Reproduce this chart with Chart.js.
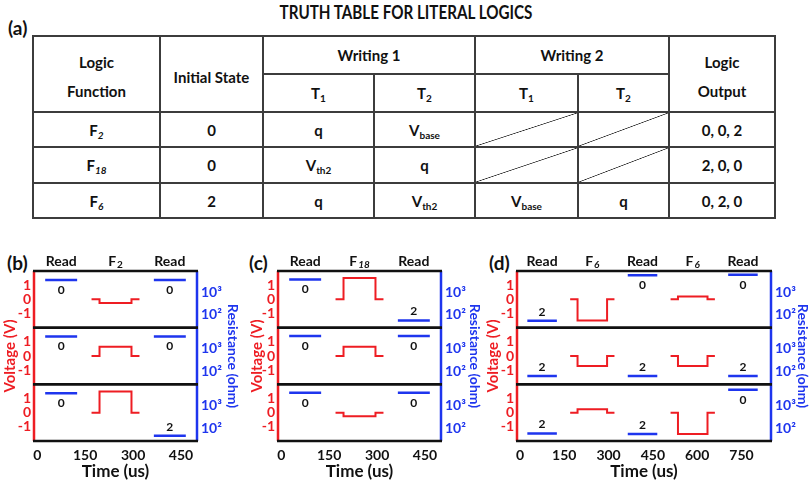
<!DOCTYPE html>
<html>
<head>
<meta charset="utf-8">
<script src="https://cdn.jsdelivr.net/npm/chart.js@4.4.1/dist/chart.umd.min.js"></script>
<style>
  html, body { margin: 0; padding: 0; background: #fff; }
  body { position: relative; width: 812px; height: 480px; overflow: hidden;
         font-family: Lato, "Open Sans", sans-serif; font-weight: bold; color: #111; }
  .lbl { position: absolute; white-space: nowrap; }
  #title { left: 0; width: 812px; top: 0px; text-align: center; font-size: 19px; transform: scaleX(0.8); }
  #tagA { left: 8px; top: 16px; font-size: 19px; }
  table { position: absolute; left: 32px; top: 35px; width: 742px; border-collapse: collapse; table-layout: fixed; }
  td { border: 2px solid #3c3c3c; text-align: center; vertical-align: middle; padding: 0; font-size: 15px; }
  td.hd2 { line-height: 29px; padding-top: 6px; }
  sub { font-size: 10px; vertical-align: -3px; line-height: 0; }
  .diag { background: linear-gradient(to bottom right, transparent calc(50% - 0.7px), #222 50%, transparent calc(50% + 0.7px)); }
  canvas { position: absolute; }
</style>
</head>
<body>
<div class="lbl" id="title">TRUTH TABLE FOR LITERAL LOGICS</div>
<div class="lbl" id="tagA">(a)</div>
<table id="truth"></table>
<div class="lbl" style="left:7px;top:251px;font-size:19px;">(b)</div>
<div class="lbl" style="left:249px;top:251px;font-size:19px;">(c)</div>
<div class="lbl" style="left:489px;top:251px;font-size:19px;">(d)</div>

<script>
// truth table
const fnSub = ['2', '18', '6'];
const initState = ['0', '0', '2'];
const w1t1 = ['q', 'V<sub>th2</sub>', 'q'];
const w1t2 = ['V<sub>base</sub>', 'q', 'V<sub>th2</sub>'];
const w2t1 = ['', '', 'V<sub>base</sub>'];
const w2t2 = ['', '', 'q'];
const logicOut = ['0, 0, 2', '2, 0, 0', '0, 2, 0'];

// waveform panels
const timeTicksBC = [0, 150, 300, 450];
const timeTicksD = [0, 150, 300, 450, 600, 750];
const voltTicks = [-1, 0, 1];
const resTicks = [100, 1000];
const resTickText = ['10\u00b2', '10\u00b3'];

const readStart = [25, 365, 705];
const readEnd = [125, 465, 805];

const pulseTimesBC = [170, 195, 195, 295, 295, 320];
const pulseTimesD = [170, 195, 195, 295, 295, 320, 415, 510, 535, 535, 635, 635, 660];

const voltB = [
  [0, 0, -0.25, -0.25, 0, 0],
  [0, 0, 0.65, 0.65, 0, 0],
  [0, 0, 1.5, 1.5, 0, 0]
];
const voltC = [
  [0, 0, 1.5, 1.5, 0, 0],
  [0, 0, 0.65, 0.65, 0, 0],
  [0, 0, -0.25, -0.25, 0, 0]
];
const voltD = [
  [0, 0, -1.5, -1.5, 0, 0, null, 0, 0, 0.2, 0.2, 0, 0],
  [0, 0, -0.7, -0.7, 0, 0, null, 0, 0, -0.7, -0.7, 0, 0],
  [0, 0, 0.25, 0.25, 0, 0, null, 0, 0, -1.5, -1.5, 0, 0]
];

const stateB = [[0, 0], [0, 0], [0, 2]];
const resB = [[3500, 3500], [3500, 3500], [3500, 46]];
const stateC = [[0, 2], [0, 0], [0, 0]];
const resC = [[3700, 56], [3700, 3700], [3700, 3700]];
const stateD = [[2, 0, 0], [2, 2, 2], [2, 2, 0]];
const resD = [[54, 5600, 5900], [63, 63, 63], [58, 55, 5000]];

const phaseTimeBC = [75, 245, 415];
const phaseTimeD = [75, 245, 415, 585, 755];
const phaseMainB = ['Read', 'F', 'Read'];
const phaseSubB = ['', '2', ''];
const phaseMainC = ['Read', 'F', 'Read'];
const phaseSubC = ['', '18', ''];
const phaseMainD = ['Read', 'F', 'Read', 'F', 'Read'];
const phaseSubD = ['', '6', '', '6', ''];

const redC = '#ee1d23';
const blueC = '#1e35ee';
const FONT = 'Lato, "Open Sans", sans-serif';

// build the table
let html = '<colgroup><col style="width:127px"><col style="width:103px"><col style="width:111px">' +
  '<col style="width:101px"><col style="width:103px"><col style="width:91px"><col style="width:106px"></colgroup>';
html += '<tr style="height:38px"><td rowspan="2" class="hd2">Logic<br>Function</td>' +
  '<td rowspan="2" style="padding-top:6px">Initial State</td><td colspan="2">Writing 1</td>' +
  '<td colspan="2">Writing 2</td><td rowspan="2" class="hd2">Logic<br>Output</td></tr>';
html += '<tr style="height:38px"><td>T<sub>1</sub></td><td>T<sub>2</sub></td><td>T<sub>1</sub></td><td>T<sub>2</sub></td></tr>';
const rowH = [35, 36, 35];
for (let i = 0; i < 3; i++) {
  html += '<tr style="height:' + rowH[i] + 'px">' +
    '<td>F<sub><i>' + fnSub[i] + '</i></sub></td>' +
    '<td>' + initState[i] + '</td>' +
    '<td>' + w1t1[i] + '</td><td>' + w1t2[i] + '</td>' +
    '<td' + (w2t1[i] ? '' : ' class="diag"') + '>' + w2t1[i] + '</td>' +
    '<td' + (w2t2[i] ? '' : ' class="diag"') + '>' + w2t2[i] + '</td>' +
    '<td>' + logicOut[i] + '</td></tr>';
}
document.getElementById('truth').innerHTML = html;

const panels = {
  chartB: { left: 0, width: 246, xMax: 500, xTicks: timeTicksBC, pulseT: pulseTimesBC, volt: voltB,
            state: stateB, res: resB, phaseT: phaseTimeBC, phaseMain: phaseMainB, phaseSub: phaseSubB,
            subItalic: false, leftW: 34, rightW: 49, vOff: 24, rOff: 36 },
  chartC: { left: 243, width: 243, xMax: 500, xTicks: timeTicksBC, pulseT: pulseTimesBC, volt: voltC,
            state: stateC, res: resC, phaseT: phaseTimeBC, phaseMain: phaseMainC, phaseSub: phaseSubC,
            subItalic: true, leftW: 35, rightW: 45, vOff: 21, rOff: 34 },
  chartD: { left: 486, width: 326, xMax: 850, xTicks: timeTicksD, pulseT: pulseTimesD, volt: voltD,
            state: stateD, res: resD, phaseT: phaseTimeD, phaseMain: phaseMainD, phaseSub: phaseSubD,
            subItalic: true, leftW: 31, rightW: 41, vOff: 24, rOff: 32 }
};

// frame, row separators, labels
const panelDecor = {
  id: 'panelDecor',
  afterDraw(chart) {
    const p = panels[chart.canvas.id];
    const { ctx, chartArea: a, scales } = chart;
    ctx.save();
    ctx.strokeStyle = redC; ctx.lineWidth = 2.5;
    ctx.beginPath(); ctx.moveTo(a.left, a.top); ctx.lineTo(a.left, a.bottom); ctx.stroke();
    ctx.strokeStyle = blueC;
    ctx.beginPath(); ctx.moveTo(a.right, a.top); ctx.lineTo(a.right, a.bottom); ctx.stroke();
    ctx.strokeStyle = '#111'; ctx.lineWidth = 2.5;
    for (let i = 0; i < 3; i++) {
      const s = scales['r' + i];
      [s.top, s.bottom].forEach(y => {
        ctx.beginPath(); ctx.moveTo(a.left - 1, y); ctx.lineTo(a.right + 1, y); ctx.stroke();
      });
    }
    // read state labels
    ctx.fillStyle = '#111';
    ctx.font = 'bold 12px ' + FONT;
    ctx.textAlign = 'center'; ctx.textBaseline = 'middle';
    for (let i = 0; i < 3; i++) {
      p.state[i].forEach((st, j) => {
        const x = scales.x.getPixelForValue((readStart[j] + readEnd[j]) / 2);
        const y = scales['r' + i].getPixelForValue(p.res[i][j]);
        ctx.fillText(String(st), x, st === 0 ? y + 10 : y - 9);
      });
    }
    // phase labels above the frame
    const ty = a.top - 10;
    p.phaseMain.forEach((m, k) => {
      const x = scales.x.getPixelForValue(p.phaseT[k]);
      const sub = p.phaseSub[k];
      ctx.font = 'bold 14px ' + FONT;
      const w1 = ctx.measureText(m).width;
      const subFont = (p.subItalic ? 'italic ' : '') + 'bold 10px ' + FONT;
      ctx.font = subFont;
      const w2 = sub ? ctx.measureText(sub).width + 1 : 0;
      const x0 = x - (w1 + w2) / 2;
      ctx.textAlign = 'left';
      ctx.font = 'bold 14px ' + FONT;
      ctx.fillText(m, x0, ty);
      if (sub) { ctx.font = subFont; ctx.fillText(sub, x0 + w1 + 1, ty + 4); }
    });
    // axis titles
    const mid = (a.top + a.bottom) / 2;
    ctx.font = 'bold 15px ' + FONT;
    ctx.textAlign = 'center';
    ctx.save();
    ctx.translate(a.left - p.vOff, mid); ctx.rotate(-Math.PI / 2);
    ctx.fillStyle = redC; ctx.fillText('Voltage (V)', 0, 0);
    ctx.restore();
    ctx.save();
    ctx.font = 'bold 14px ' + FONT;
    ctx.translate(a.right + p.rOff, mid); ctx.rotate(Math.PI / 2);
    ctx.fillStyle = blueC; ctx.fillText('Resistance (ohm)', 0, 0);
    ctx.restore();
    ctx.restore();
  }
};

function makePanel(id) {
  const p = panels[id];
  const cv = document.createElement('canvas');
  cv.id = id;
  cv.width = p.width; cv.height = 228;
  cv.style.left = p.left + 'px'; cv.style.top = '252px';
  document.body.appendChild(cv);

  const scales = {
    x: {
      type: 'linear', position: 'bottom', min: -10, max: p.xMax, bounds: 'data',
      grid: { display: false, drawTicks: false }, border: { display: false },
      ticks: { color: '#111', font: { size: 14, weight: 'bold' }, padding: 6, autoSkip: false, maxRotation: 0 },
      afterBuildTicks: s => { s.ticks = p.xTicks.map(v => ({ value: v })); },
      afterFit: s => { s.height = 39; },
      title: { display: true, text: 'Time (us)', color: '#111', font: { size: 17, weight: 'bold' },
               padding: { top: 0, bottom: -2 } }
    }
  };
  for (let i = 0; i < 3; i++) {
    scales['v' + i] = {
      type: 'linear', position: 'left', stack: 'volt', stackWeight: 1, weight: 3 - i,
      min: -2, max: 2, bounds: 'data',
      grid: { display: false, drawTicks: false }, border: { display: false },
      ticks: { color: redC, font: { size: 14, weight: 'bold' }, padding: 3, autoSkip: false },
      afterBuildTicks: s => { s.ticks = voltTicks.map(v => ({ value: v })); },
      afterFit: s => { s.width = p.leftW; }
    };
    scales['r' + i] = {
      type: 'logarithmic', position: 'right', stack: 'res', stackWeight: 1, weight: i + 1,
      min: 27, max: 8700, bounds: 'data',
      grid: { display: false, drawTicks: false }, border: { display: false },
      ticks: { color: blueC, font: { size: 14, weight: 'bold' }, padding: 4, autoSkip: false,
               callback: v => resTickText[resTicks.indexOf(v)] },
      afterBuildTicks: s => { s.ticks = resTicks.map(v => ({ value: v })); },
      afterFit: s => { s.width = p.rightW; }
    };
  }

  const datasets = [];
  for (let i = 0; i < 3; i++) {
    datasets.push({
      data: p.pulseT.map((t, k) => ({ x: t, y: p.volt[i][k] })),
      yAxisID: 'v' + i, borderColor: redC, borderWidth: 2, pointRadius: 0
    });
    const pts = [];
    p.res[i].forEach((r, j) => {
      if (j > 0) pts.push({ x: (readEnd[j - 1] + readStart[j]) / 2, y: null });
      pts.push({ x: readStart[j], y: r }, { x: readEnd[j], y: r });
    });
    datasets.push({ data: pts, yAxisID: 'r' + i, borderColor: blueC, borderWidth: 2.5, pointRadius: 0 });
  }

  return new Chart(cv, {
    type: 'line',
    data: { datasets },
    options: {
      responsive: false, animation: false, devicePixelRatio: 1, events: [],
      layout: { padding: { top: 19, left: 0, right: 0, bottom: 0 } },
      plugins: { legend: { display: false }, tooltip: { enabled: false } },
      scales
    },
    plugins: [panelDecor]
  });
}

Chart.defaults.font.family = FONT;
makePanel('chartB');
makePanel('chartC');
makePanel('chartD');
</script>
</body>
</html>
